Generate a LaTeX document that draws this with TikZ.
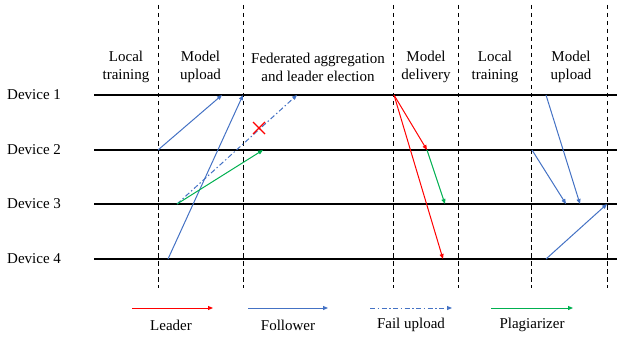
\documentclass[tikz,border=0pt]{standalone}
\usepackage{fontspec}
\setmainfont{Liberation Serif}
\usetikzlibrary{arrows.meta,calc}
\definecolor{ldr}{HTML}{FF0000}
\definecolor{flw}{HTML}{4472C4}
\definecolor{plg}{HTML}{00B050}
\begin{document}
\begin{tikzpicture}[x=1pt,y=-1pt,
  lane/.style={line width=2.4pt,black},
  phase/.style={line width=0.9pt,dash pattern=on 4.5pt off 3.5pt},
  tip/.style={-{Triangle[length=5pt,width=4pt]}},
  leaderarrow/.style={tip,ldr,line width=1pt},
  followerarrow/.style={tip,flw,line width=1pt},
  failarrow/.style={tip,flw,line width=1pt,dash pattern=on 5pt off 2.5pt on 1.5pt off 2.5pt},
  plagarrow/.style={tip,plg,line width=1pt},
  lbl/.style={font=\fontsize{15}{18}\selectfont,align=center,inner sep=0pt},
  devlbl/.style={font=\fontsize{15}{18}\selectfont,anchor=west,inner sep=0pt},
  leglbl/.style={font=\fontsize{15}{18}\selectfont,inner sep=0pt}]
\useasboundingbox (0,0) rectangle (617,339);

% device time lines
\foreach \n/\y in {1/95,2/150,3/204,4/259}{
  \node[devlbl] (dev\n) at (7,\y) {Device \n};
  \draw[lane] (94,\y) -- (617,\y);
}

% phase boundaries
\foreach \x in {158,243,393.5,458,531.5,607}
  \draw[phase] (\x,5) -- (\x,288);

% phase titles
\node[lbl] (p1) at (126,67) {Local\\training};
\node[lbl] (p2) at (200.5,67) {Model\\upload};
\node[lbl] (p3) at (318,67) {Federated aggregation\\and leader election};
\node[lbl] (p4) at (426,67) {Model\\delivery};
\node[lbl] (p5) at (495,67) {Local\\training};
\node[lbl] (p6) at (571,67) {Model\\upload};

% message end points
\coordinate (a2s) at (158,150);   \coordinate (a1e) at (222,95);
\coordinate (b4s) at (168,259);   \coordinate (b1e) at (243,95);
\coordinate (c3s) at (177,204);   \coordinate (c1e) at (297,95);
\coordinate (c2e) at (263,150);
\coordinate (x0) at (259,128);
\coordinate (d1s) at (394,95);    \coordinate (d2e) at (427,150);
\coordinate (d4e) at (443,259);   \coordinate (d3e) at (445,204);
\coordinate (e1s) at (546,95);    \coordinate (e3e) at (580,204);
\coordinate (e2s) at (532,150);   \coordinate (e3f) at (566,204);
\coordinate (e4s) at (546,259);   \coordinate (e3g) at (607,204);

% upload round
\draw[followerarrow] (a2s) -- (a1e);
\draw[followerarrow] (b4s) -- (b1e);
\draw[failarrow] (c3s) -- (c1e);
\draw[plagarrow] (c3s) -- (c2e);
\draw[ldr,line width=1.3pt] ($(x0)+(-6,-6)$) -- ($(x0)+(6,6)$)
  ($(x0)+(-6,6)$) -- ($(x0)+(6,-6)$);

% delivery
\draw[leaderarrow] (d1s) -- (d2e);
\draw[leaderarrow] (d1s) -- (d4e);
\draw[plagarrow] (d2e) -- (d3e);

% next upload round
\draw[followerarrow] (e1s) -- (e3e);
\draw[followerarrow] (e2s) -- (e3f);
\draw[followerarrow] (e4s) -- (e3g);

% legend
\coordinate (l1a) at (132,308); \coordinate (l1b) at (213,308);
\coordinate (l2a) at (248,308); \coordinate (l2b) at (328,308);
\coordinate (l3a) at (370,308); \coordinate (l3b) at (452,308);
\coordinate (l4a) at (491,308); \coordinate (l4b) at (573,308);
\draw[leaderarrow] (l1a) -- (l1b);
\draw[followerarrow] (l2a) -- (l2b);
\draw[failarrow] (l3a) -- (l3b);
\draw[plagarrow] (l4a) -- (l4b);
\node[leglbl] (k1) at (171,325) {Leader};
\node[leglbl] (k2) at (288,325) {Follower};
\node[leglbl] (k3) at (411,325) {Fail upload};
\node[leglbl] (k4) at (532,325) {Plagiarizer};
\end{tikzpicture}
\end{document}
